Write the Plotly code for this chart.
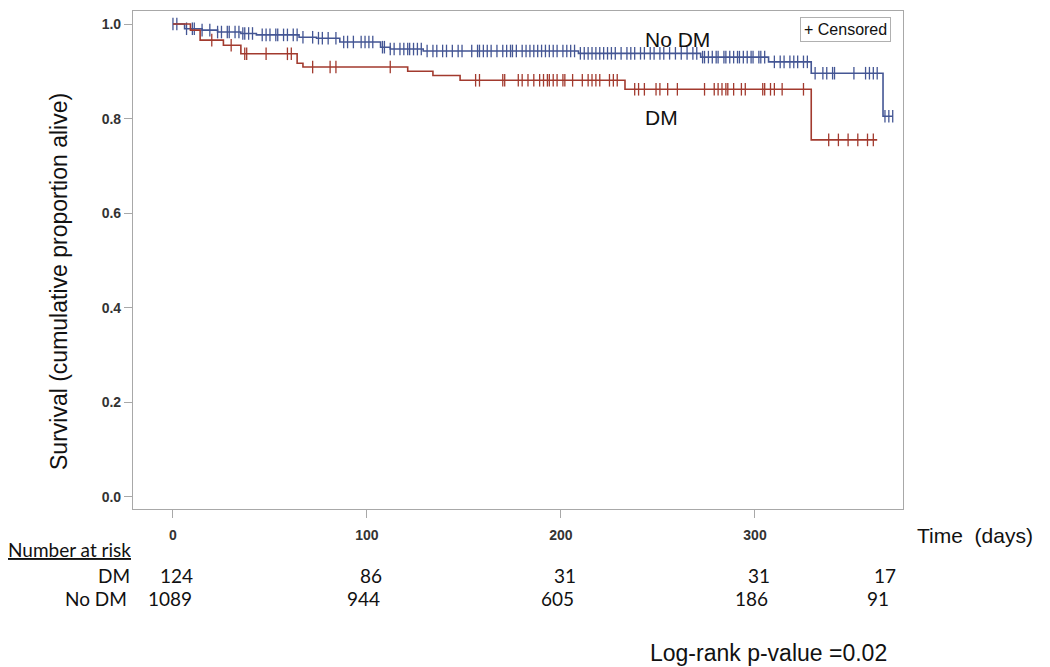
import plotly.graph_objects as go
import bisect

# ---------------- data ----------------
# DM group: step times (days) and survival after each step
dm_step_days = [0, 9, 14, 26, 35, 64, 67, 121, 134, 148, 233, 329]
dm_step_surv = [1.0, 0.987, 0.966, 0.955, 0.937, 0.917, 0.909, 0.900, 0.891, 0.881, 0.862, 0.755]
dm_last_day = 363
dm_censor_days = [20, 30, 37, 38, 48, 59, 61, 72, 81, 84, 112, 156, 158, 170, 171, 178, 180,
                  183, 186, 189, 191, 193, 194, 196, 198, 201, 202, 206, 211, 214, 216, 218,
                  220, 225, 227, 229, 238, 240, 243, 249, 251, 255, 260, 274, 279, 281, 283,
                  285, 286, 289, 293, 295, 304, 305, 308, 310, 314, 325, 338, 343, 348, 353,
                  358, 361]

# No DM group
nodm_step_days = [0, 6, 15, 23, 35, 43, 65, 74, 86, 107, 112, 129, 209, 272, 307, 329, 366]
nodm_step_surv = [1.0, 0.990, 0.987, 0.983, 0.980, 0.977, 0.972, 0.970, 0.962, 0.951, 0.947,
                  0.943, 0.938, 0.930, 0.920, 0.896, 0.805]
nodm_last_day = 371
nodm_censor_days = [0, 2, 7, 10, 11, 15, 19, 23, 25, 28, 29, 32, 34, 36, 37, 39, 41, 46, 48, 50,
                    53, 54, 57, 59, 62, 64, 67, 72, 75, 77, 80, 84, 88, 90, 93, 97, 99, 101, 103,
                    108, 109, 112, 114, 117, 119, 121, 122, 124, 126, 128, 131, 134, 136, 139,
                    141, 144, 147, 149, 154, 157, 158, 160, 162, 164, 167, 170, 172, 174, 175,
                    177, 180, 182, 184, 186, 188, 190, 192, 194, 196, 198, 201, 203, 205, 207,
                    210, 212, 214, 216, 218, 220, 222, 224, 226, 228, 231, 234, 236, 238, 241,
                    243, 246, 248, 251, 253, 256, 259, 262, 265, 268, 270, 273, 274, 276, 278,
                    280, 281, 284, 285, 287, 289, 291, 292, 294, 296, 298, 299, 302, 303, 305,
                    310, 313, 315, 318, 320, 322, 325, 327, 331, 335, 337, 340, 341, 351, 357,
                    359, 361, 363, 367, 369, 371]

# Number at risk table
risk_days = [0, 100, 200, 300, 365]
risk_dm = [124, 86, 31, 31, 17]
risk_nodm = [1089, 944, 605, 186, 91]

x_ticks = [0, 100, 200, 300]
y_ticks = [0.0, 0.2, 0.4, 0.6, 0.8, 1.0]

BLUE = "#445694"
RED = "#A23A2E"

# ---------------- helpers ----------------
def surv_at(days, surv, t):
    i = bisect.bisect_right(days, t) - 1
    return surv[max(i, 0)]

def step_xy(days, surv, last):
    return days + [last], surv + [surv[-1]]

# plot area in page pixels; the page body has an 8px offset
OFF = 8
L, R, T, B = 133, 903, 11, 509
W, H = 1050, 667

def pp(x, y):
    return (x - L) / (R - L), (B - y) / (B - T)

fig = go.Figure()

for days, surv, last, cens, col, name in [
    (nodm_step_days, nodm_step_surv, nodm_last_day, nodm_censor_days, BLUE, "No DM"),
    (dm_step_days, dm_step_surv, dm_last_day, dm_censor_days, RED, "DM"),
]:
    sx, sy = step_xy(days, surv, last)
    fig.add_trace(go.Scatter(x=sx, y=sy, mode="lines", line=dict(color=col, width=1.6, shape="hv"),
                             name=name, showlegend=False, hoverinfo="skip"))
    fig.add_trace(go.Scatter(x=cens, y=[surv_at(days, surv, t) for t in cens], mode="markers",
                             marker=dict(symbol="line-ns", size=9, line=dict(color=col, width=1.3)),
                             showlegend=False, hoverinfo="skip"))

AX = dict(showline=True, linecolor="#a8a8a8", linewidth=1.2, mirror=True, showgrid=False,
          zeroline=False, ticks="outside", ticklen=8, tickcolor="#a8a8a8", tickwidth=1.2)

fig.update_xaxes(range=[-20.6, 376.3], tickvals=x_ticks, ticktext=[str(v) for v in x_ticks],
                 tickfont=dict(family="Liberation Sans", size=14, color="#333", weight="bold"),
                 ticklabelstandoff=5, **AX)
fig.update_yaxes(range=[-0.0254, 1.0275], tickvals=y_ticks, ticktext=[f"{v:.1f}" for v in y_ticks],
                 tickfont=dict(family="Liberation Sans", size=14, color="#333", weight="bold"),
                 ticklabelstandoff=0, **AX)

ann = []

def txt(x, y, text, size, family="Liberation Sans", **kw):
    ax, ay = pp(x, y)
    d = dict(x=ax, y=ay, xref="paper", yref="paper", text=text, showarrow=False,
             xanchor="center", yanchor="middle",
             font=dict(family=family, size=size, color="#111"))
    d.update(kw)
    ann.append(d)

# curve labels (data coordinates)
ann.append(dict(x=260, y=0.968, xref="x", yref="y", text="No DM", showarrow=False,
                font=dict(family="Liberation Sans", size=21, color="#111")))
ann.append(dict(x=252, y=0.803, xref="x", yref="y", text="DM", showarrow=False,
                font=dict(family="Liberation Sans", size=21, color="#111")))
# censored legend box
txt(845, 29.5, "+ Censored", 16, bordercolor="#b0b0b0", borderwidth=1, borderpad=3, bgcolor="white")
# y axis title
txt(59, 282, "Survival (cumulative proportion alive)", 23, textangle=-90)
# Time (days)
txt(975, 535, "Time  (days)", 21)
# Number at risk
txt(69, 549, "<u>Number at risk</u>", 19, family="Lato")
# row labels
txt(132, 575, "DM", 19, family="Lato", xanchor="right")
txt(129, 598, "No DM", 19, family="Lato", xanchor="right")
_, y_dm = pp(0, 575)
_, y_nodm = pp(0, 598)
for d, a, b in zip(risk_days, risk_dm, risk_nodm):
    ann.append(dict(x=d, y=y_dm, xref="x", yref="paper", text=str(a), showarrow=False,
                    xanchor="center", yanchor="middle", xshift=4,
                    font=dict(family="Lato", size=19, color="#111")))
    ann.append(dict(x=d, y=y_nodm, xref="x", yref="paper", text=str(b), showarrow=False,
                    xanchor="center", yanchor="middle", xshift=-3,
                    font=dict(family="Lato", size=19, color="#111")))
# log-rank
txt(768, 653, "Log-rank p-value =0.02", 23)

fig.update_layout(width=W, height=H,
                  margin=dict(l=L - OFF, r=W - (R - OFF), t=T - OFF, b=H - (B - OFF), autoexpand=False),
                  plot_bgcolor="white", paper_bgcolor="white", annotations=ann, showlegend=False)

fig.write_html("out.html")
